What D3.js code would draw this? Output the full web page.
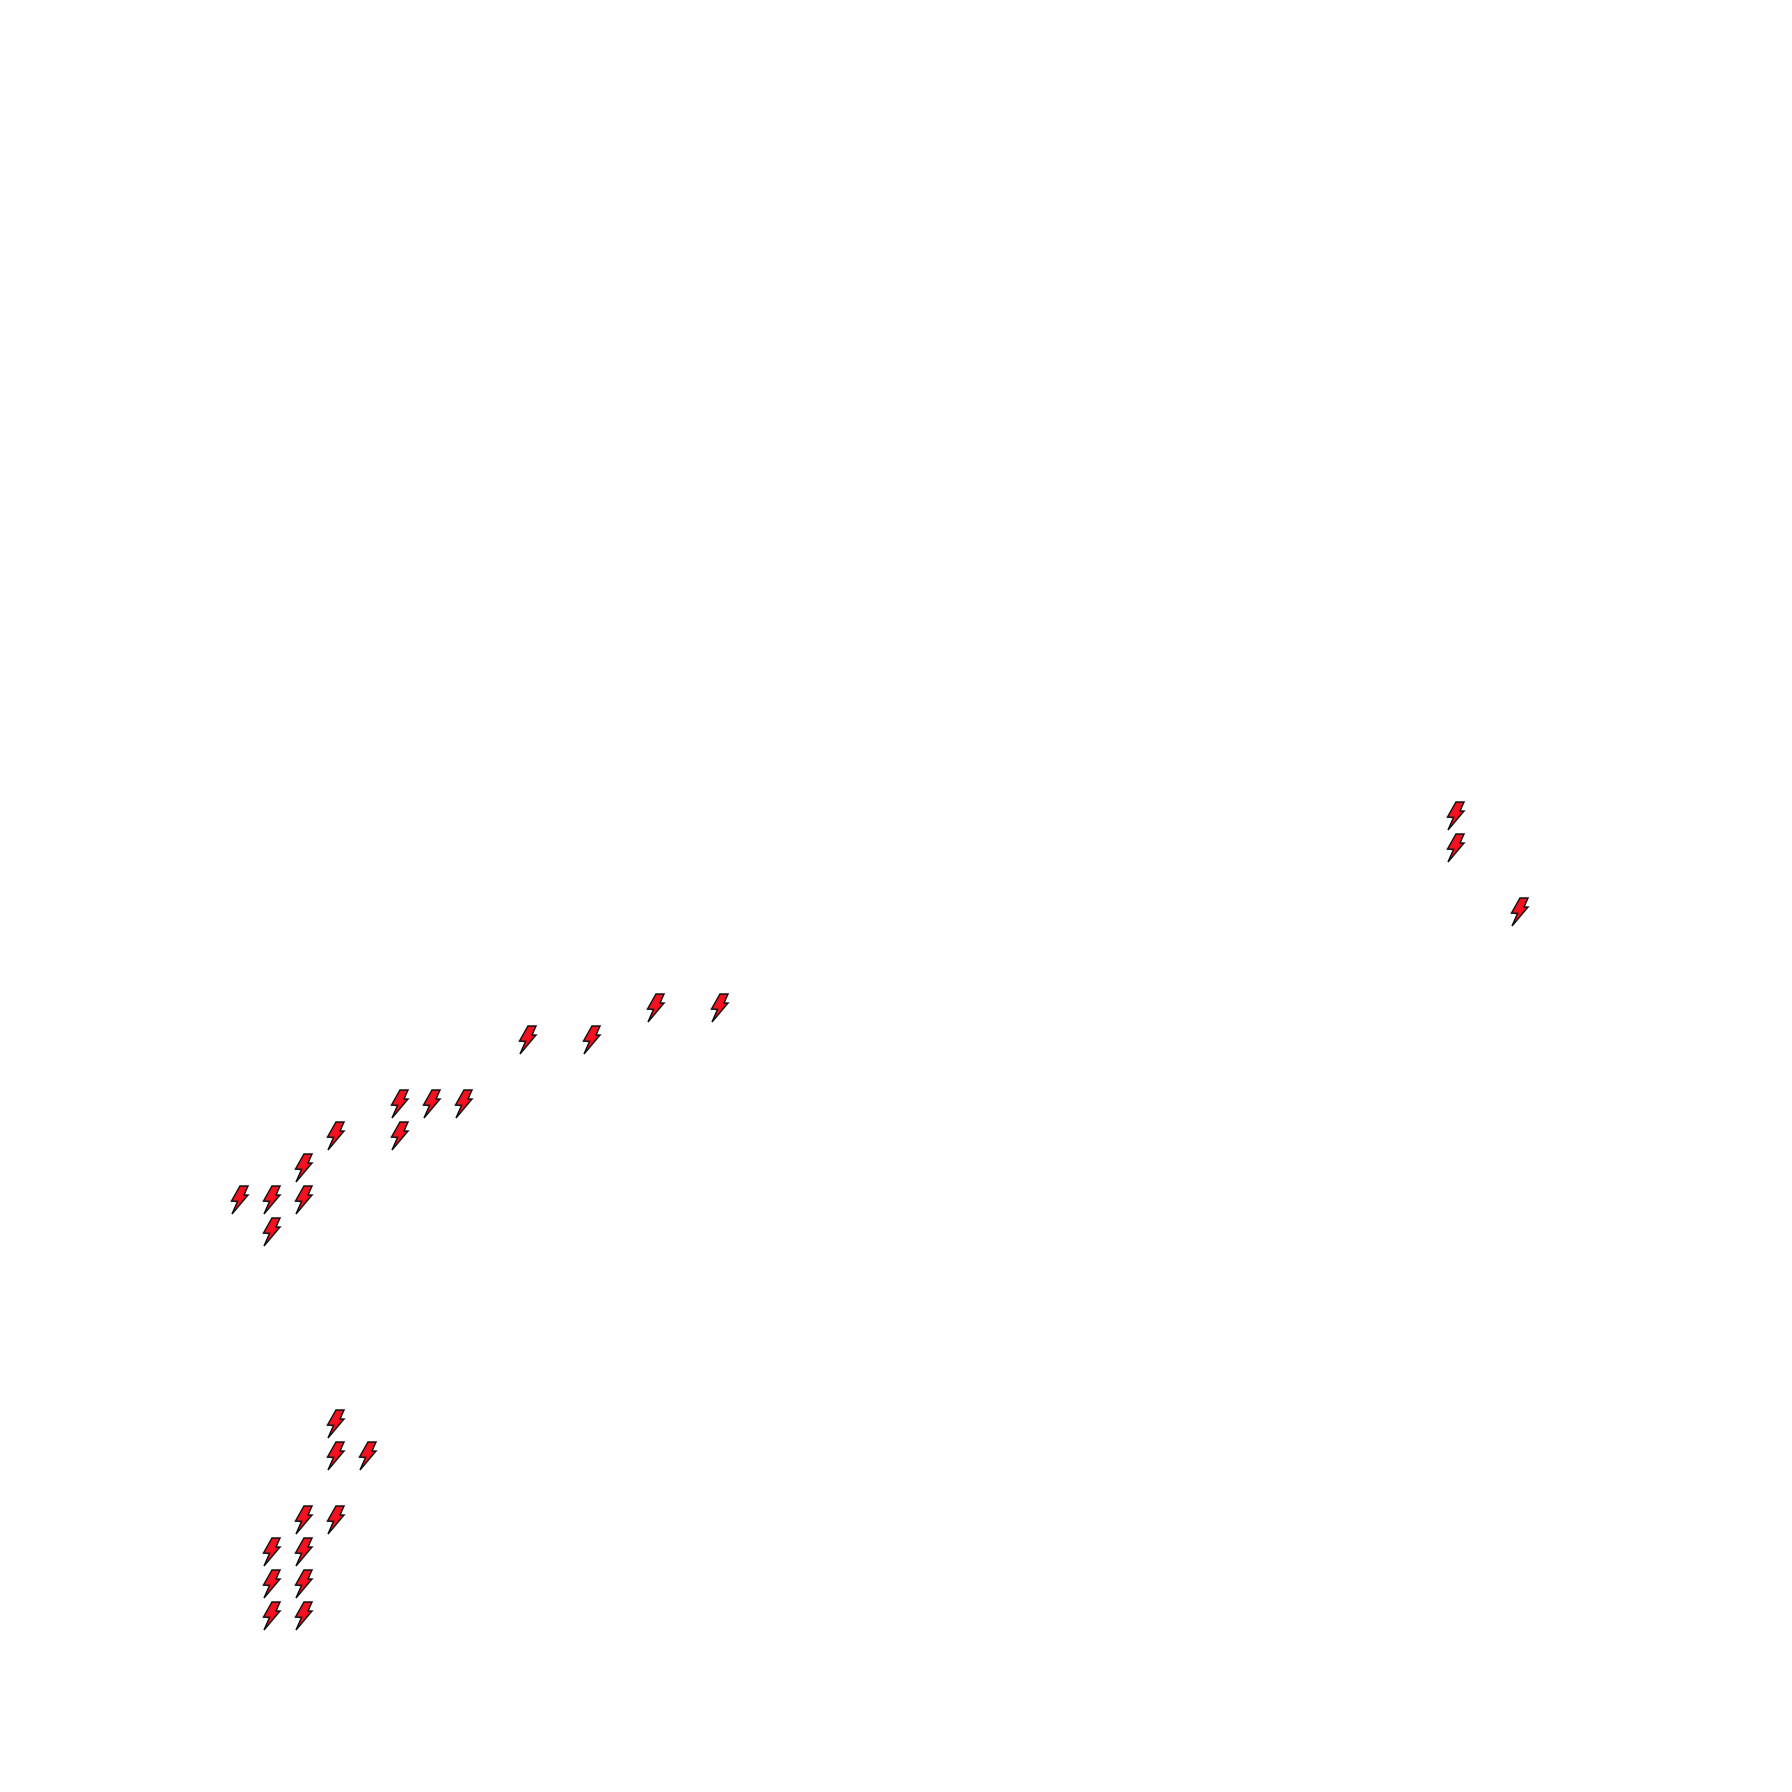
<!DOCTYPE html>
<html><head><meta charset="utf-8"><style>html,body{margin:0;padding:0;background:#fff}svg{display:block}</style>
<script src="https://cdnjs.cloudflare.com/ajax/libs/d3/7.8.5/d3.min.js"></script></head><body><script>
const xValues=[38,38,40,13,15,9,11,5,6,7,3,5,2,0,1,2,1,3,3,4,2,3,1,2,1,2,1,2];
const yValues=[25,24,22,19,19,18,18,16,16,16,15,15,14,13,13,13,12,6,5,5,3,3,2,2,1,1,0,0];
const W=1792;
const x=d3.scaleLinear().domain([0,40]).range([239.5,1519.5]);
const y=d3.scaleLinear().domain([0,25]).range([1616,816]);
const svg=d3.select("body").append("svg").attr("width",W).attr("height",W);
svg.selectAll("path").data(xValues.map((v,i)=>[v,yValues[i]])).join("path")
 .attr("d","M0.5,-14L8.5,-14L4.5,-5L8.5,-5L-7.5,14L-2,1.5L-8,1Z")
 .attr("transform",d=>`translate(${x(d[0])},${y(d[1])})`)
 .attr("fill","#f5101e").attr("stroke","#111").attr("stroke-width",1.5).attr("stroke-linejoin","miter");
</script></body></html>
